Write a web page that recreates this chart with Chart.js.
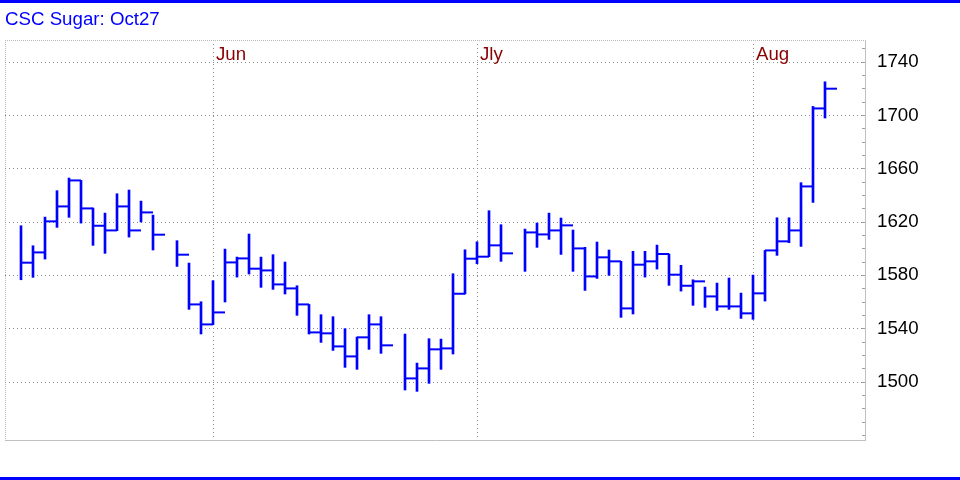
<!DOCTYPE html>
<html>
<head>
<meta charset="utf-8">
<script src="https://cdn.jsdelivr.net/npm/chart.js@4.4.1/dist/chart.umd.min.js"></script>
<style>
  html, body { margin: 0; padding: 0; background: #ffffff; overflow: hidden; }
  #wrap { position: relative; width: 960px; height: 480px; }
  #topline { position: absolute; left: 0; top: 0; width: 960px; height: 3px; background: #0000ff; }
  #botline { position: absolute; left: 0; top: 477px; width: 960px; height: 3px; background: #0000ff; }
  canvas { position: absolute; left: 0; top: 0; }
</style>
</head>
<body>
<div id="wrap">
  <canvas id="c" width="960" height="480"></canvas>
  <div id="topline"></div>
  <div id="botline"></div>
</div>
<script>
// ---- data (one slot per trading day; null = no trading) ----
const highs = [
  1617.2, 1602.2, 1623.7, 1643.5, 1653.0, 1651.2, 1630.5, 1626.7, 1641.2, 1644.0,
  1635.7, 1625.2, null,   1606.0, 1589.2, 1560.2, 1576.0, 1599.7, 1593.7, 1611.0,
  1593.7, 1595.5, 1590.0, 1572.2, 1558.2, 1550.5, 1549.0, 1540.0, 1533.7, 1550.5,
  1549.0, null,   1536.0, 1514.2, 1532.5, 1532.2, 1581.2, 1599.2, 1605.2, 1628.5,
  1618.0, null,   1614.7, 1619.2, 1626.7, 1623.0, 1614.0, 1601.0, 1605.0, 1599.0,
  1590.5, 1598.0, 1598.0, 1602.7, 1596.0, 1587.5, 1576.7, 1571.2, 1574.2, 1578.0,
  1566.7, 1580.2, 1598.7, 1623.2, 1623.2, 1649.5, 1706.7, 1725.2
];
const lows = [
  1576.7, 1578.5, 1592.2, 1616.0, 1623.5, 1619.2, 1602.5, 1596.5, 1613.5, 1608.7,
  1620.0, 1599.0, null,   1586.7, 1554.5, 1536.0, 1543.0, 1560.0, 1578.7, 1581.0,
  1571.0, 1569.5, 1566.0, 1550.0, 1536.0, 1529.7, 1523.7, 1511.0, 1509.5, 1524.5,
  1521.5, null,   1494.0, 1493.0, 1499.0, 1509.5, 1521.0, 1566.0, 1588.7, 1594.0,
  1590.5, null,   1583.0, 1601.0, 1607.0, 1595.7, 1583.0, 1568.7, 1577.7, 1580.0,
  1548.5, 1551.0, 1578.7, 1584.7, 1572.5, 1568.2, 1557.5, 1556.0, 1553.7, 1554.5,
  1547.7, 1547.0, 1560.7, 1595.0, 1604.5, 1601.7, 1634.7, 1698.0
];
const closes = [
  1589.5, 1597.2, 1620.5, 1631.7, 1651.2, 1630.2, 1617.2, 1613.7, 1631.7, 1613.7,
  1627.2, 1610.5, null,   1595.5, 1558.2, 1543.2, 1552.2, 1589.7, 1592.7, 1585.0,
  1583.7, 1573.2, 1570.2, 1558.2, 1537.2, 1536.5, 1526.7, 1519.2, 1533.5, 1543.2,
  1527.5, null,   1502.7, 1510.2, 1524.5, 1525.2, 1566.2, 1592.5, 1594.0, 1602.5,
  1596.5, null,   1612.2, 1610.7, 1613.7, 1617.5, 1600.2, 1579.2, 1593.5, 1590.5,
  1555.2, 1588.0, 1590.5, 1596.0, 1580.5, 1572.2, 1575.5, 1564.2, 1556.7, 1556.7,
  1551.5, 1566.5, 1598.7, 1605.5, 1613.7, 1646.7, 1705.2, 1720.0
];
const monthLabels = ['Jun', 'Jly', 'Aug'];
const monthSlots = [16, 38, 61];
const yTickLabels = [1500, 1540, 1580, 1620, 1660, 1700, 1740];
const titleText = 'CSC Sugar: Oct27';

// ---- derived datasets ----
const barData = [];
const closeData = [];
highs.forEach((h, i) => {
  if (h === null) return;
  barData.push({ x: i, y: [lows[i], h] });
  closeData.push({ x: i + 0.5, y: closes[i] });   // close tick drawn to the right of the bar
});

const FONT = '"Liberation Sans", Arial, Helvetica, sans-serif';
const xMin = -4 / 3, xMax = 211 / 3;
const yMin = 1456.5, yMax = 1756.5;

const monthLabelPlugin = {
  id: 'monthLabels',
  afterDraw(chart) {
    const { ctx, chartArea } = chart;
    const xs = chart.scales.x;
    ctx.save();
    ctx.font = '18.7px ' + FONT;
    ctx.fillStyle = '#8b0000';
    ctx.textAlign = 'left';
    ctx.textBaseline = 'alphabetic';
    monthLabels.forEach((m, i) => {
      ctx.fillText(m, xs.getPixelForValue(monthSlots[i]) + 3, chartArea.top + 20);
    });
    ctx.restore();
  }
};

new Chart(document.getElementById('c'), {
  type: 'scatter',
  data: {
    datasets: [
      {
        type: 'bar',
        data: barData,
        backgroundColor: '#0000ff',
        borderWidth: 0,
        barThickness: 2,
        grouped: false
      },
      {
        type: 'scatter',
        data: closeData,
        pointStyle: 'line',
        pointRadius: 6,
        pointHoverRadius: 6,
        pointBorderColor: '#0000ff',
        pointBackgroundColor: '#0000ff',
        pointBorderWidth: 2,
        pointHoverBorderWidth: 2
      }
    ]
  },
  options: {
    responsive: false,
    devicePixelRatio: 1,
    animation: false,
    events: [],
    layout: { autoPadding: false, padding: { left: 5, top: 0, right: 0, bottom: 40 } },
    plugins: {
      legend: { display: false },
      tooltip: { enabled: false },
      title: {
        display: true,
        text: titleText,
        align: 'start',
        color: '#0000ff',
        font: { family: FONT, size: 18.7, weight: 'normal' },
        padding: { top: 9, bottom: 8.6 }
      }
    },
    scales: {
      x: {
        type: 'linear',
        position: 'bottom',
        min: xMin,
        max: xMax,
        offset: false,
        afterBuildTicks: s => {
          s.ticks = [{ value: xMin }].concat(monthSlots.map(v => ({ value: v })));
        },
        ticks: { display: false },
        grid: {
          offset: false,
          drawTicks: false,
          lineWidth: 1,
          color: c => (c.tick && c.tick.value === xMin) ? '#b8b8b8' : '#8c8c8c'
        },
        border: {
          display: true,
          color: '#c0c0c0',
          width: 1,
          dash: c => (c.tick && c.tick.value === xMin) ? [1, 1] : [1, 3]
        },
        afterFit: s => { s.height = 0; }
      },
      y: {
        type: 'linear',
        position: 'right',
        min: yMin,
        max: yMax,
        afterBuildTicks: s => {
          const t = [];
          for (let v = 1460; v <= 1750; v += 10) t.push({ value: v });
          t.push({ value: yMax });
          s.ticks = t;
        },
        ticks: {
          autoSkip: false,
          padding: 15,
          color: '#000000',
          font: { family: FONT, size: 18.7 },
          callback: v => yTickLabels.includes(v) ? String(v) : ''
        },
        grid: {
          lineWidth: 1,
          tickLength: -3,
          color: c => {
            const v = c.tick ? c.tick.value : null;
            if (v === yMax) return '#b8b8b8';
            return yTickLabels.includes(v) ? '#8c8c8c' : 'rgba(0,0,0,0)';
          },
          tickColor: c => (c.tick && c.tick.value === yMax) ? 'rgba(0,0,0,0)' : '#a0a0a0'
        },
        border: {
          display: true,
          color: '#c0c0c0',
          width: 1,
          dash: c => (c.tick && c.tick.value === yMax) ? [1, 1] : [1, 3]
        },
        afterFit: s => { s.width = 95; }
      }
    }
  },
  plugins: [monthLabelPlugin]
});
</script>
</body>
</html>
